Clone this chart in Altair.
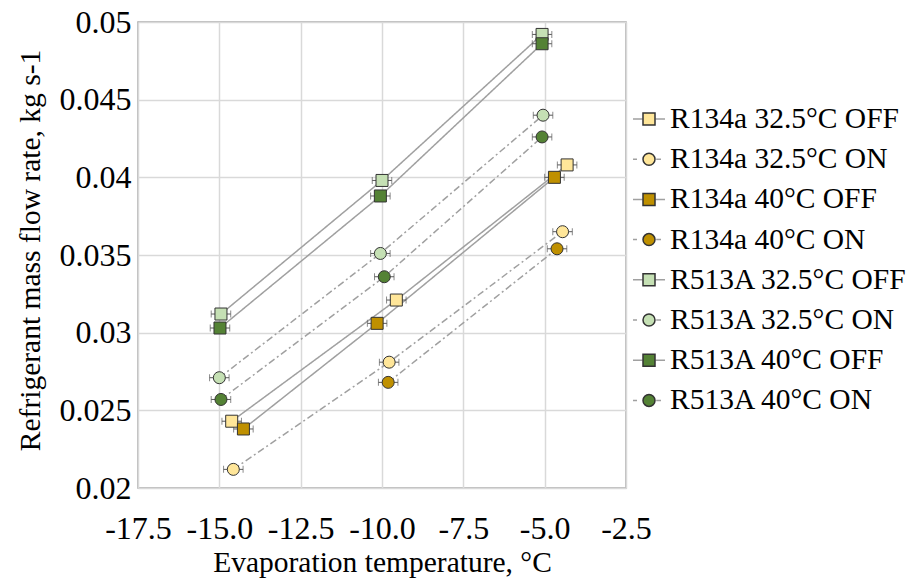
import altair as alt
import pandas as pd

# ---------------- data ----------------
SERIES = [
    "R134a 32.5°C OFF", "R134a 32.5°C ON", "R134a 40°C OFF", "R134a 40°C ON",
    "R513A 32.5°C OFF", "R513A 32.5°C ON", "R513A 40°C OFF", "R513A 40°C ON",
]
MODE = ["OFF", "ON", "OFF", "ON", "OFF", "ON", "OFF", "ON"]

X_R134A_325_OFF = [-14.62, -9.56, -4.31]
Y_R134A_325_OFF = [0.0243, 0.0321, 0.0408]
X_R134A_325_ON = [-14.57, -9.78, -4.45]
Y_R134A_325_ON = [0.0212, 0.0281, 0.0365]
X_R134A_40_OFF = [-14.26, -10.15, -4.70]
Y_R134A_40_OFF = [0.0238, 0.0306, 0.0400]
X_R134A_40_ON = [-9.81, -4.62]
Y_R134A_40_ON = [0.0268, 0.0354]
X_R513A_325_OFF = [-14.95, -10.00, -5.08]
Y_R513A_325_OFF = [0.0312, 0.0398, 0.0492]
X_R513A_325_ON = [-15.00, -10.05, -5.05]
Y_R513A_325_ON = [0.0271, 0.0351, 0.0440]
X_R513A_40_OFF = [-14.98, -10.05, -5.08]
Y_R513A_40_OFF = [0.0303, 0.0388, 0.0486]
X_R513A_40_ON = [-14.95, -9.93, -5.08]
Y_R513A_40_ON = [0.0257, 0.0336, 0.0426]

X_LISTS = [X_R134A_325_OFF, X_R134A_325_ON, X_R134A_40_OFF, X_R134A_40_ON,
           X_R513A_325_OFF, X_R513A_325_ON, X_R513A_40_OFF, X_R513A_40_ON]
Y_LISTS = [Y_R134A_325_OFF, Y_R134A_325_ON, Y_R134A_40_OFF, Y_R134A_40_ON,
           Y_R513A_325_OFF, Y_R513A_325_ON, Y_R513A_40_OFF, Y_R513A_40_ON]

X_ERROR = 0.3  # half width of the horizontal error bars, °C

X_TICKS = [-17.5, -15.0, -12.5, -10.0, -7.5, -5.0, -2.5]
Y_TICKS = [0.02, 0.025, 0.03, 0.035, 0.04, 0.045, 0.05]

FILLS = ["#FFE699", "#FFE699", "#BF9000", "#BF9000",
         "#C5E0B4", "#C5E0B4", "#548235", "#548235"]
SHAPES = ["square", "circle", "square", "circle",
          "square", "circle", "square", "circle"]

# legend symbols: connector line part and marker part (unit coordinates)
LINE_SOLID = "M-1,0H-0.4M0.4,0H1"
LINE_DASHDOT = "M-1,0H-0.75M0.45,0H0.75"
SQUARE_PATH = "M-0.375,-0.375H0.375V0.375H-0.375Z"
CIRCLE_PATH = "M0.375,0A0.375,0.375,0,1,1,-0.375,0A0.375,0.375,0,1,1,0.375,0Z"
LEGEND_LINES = [LINE_SOLID if m == "OFF" else LINE_DASHDOT for m in MODE]
LEGEND_MARKERS = [SQUARE_PATH if s == "square" else CIRCLE_PATH for s in SHAPES]

rows = []
for name, mode, xs, ys in zip(SERIES, MODE, X_LISTS, Y_LISTS):
    for xv, yv in zip(xs, ys):
        rows.append({"series": name, "mode": mode, "x": xv, "y": yv})
df = pd.DataFrame(rows)

# ---------------- styling ----------------
FONT = "Liberation Serif"
TXT = "#000000"
FS_TICK = 32
FS_TITLE = 29.5
FS_LEG = 29.5

x_scale = alt.Scale(domain=[-17.5, -2.5], nice=False, zero=False)
y_scale = alt.Scale(domain=[0.02, 0.05], nice=False, zero=False)

X_TITLE = "Evaporation temperature, °C"
Y_TITLE = "Refrigerant mass flow rate, kg s-1"

x_axis = alt.Axis(
    values=X_TICKS,
    labelExpr="replace(format(datum.value, '.1f'), '\u2212', '-')",
    labelFont=FONT, labelFontSize=FS_TICK, labelColor=TXT, labelPadding=25,
    labelFlush=False, labelOverlap=False,
    ticks=False, tickSize=0, domain=False,
    grid=True, gridColor="#d9d9d9", gridWidth=1.5,
    titleFont=FONT, titleFontSize=FS_TITLE, titleFontWeight="normal", titleColor=TXT,
    titleY=74, titleBaseline="middle",
)
y_axis = alt.Axis(
    values=Y_TICKS,
    labelExpr="format(datum.value, '.3~f')",
    labelFont=FONT, labelFontSize=FS_TICK, labelColor=TXT, labelPadding=7,
    labelFlush=False, labelOverlap=False,
    ticks=False, tickSize=0, domain=False,
    grid=True, gridColor="#d9d9d9", gridWidth=1.5,
    titleFont=FONT, titleFontSize=FS_TITLE, titleFontWeight="normal", titleColor=TXT,
    titleX=-108, titleY=228, titleAngle=-90, titleBaseline="middle", titleAlign="center",
)

enc_x = alt.X("x:Q", scale=x_scale, axis=x_axis, title=X_TITLE)
enc_y = alt.Y("y:Q", scale=y_scale, axis=y_axis, title=Y_TITLE)

base = alt.Chart(df)

lines = base.mark_line(color="#a0a0a0", strokeWidth=1.5).encode(
    x=enc_x, y=enc_y,
    detail="series:N",
    order="x:Q",
    strokeDash=alt.StrokeDash(
        "mode:N",
        scale=alt.Scale(domain=["OFF", "ON"], range=[[1, 0], [7, 3, 2, 3]]),
        legend=None,
    ),
)

err = base.transform_calculate(
    xlo=f"datum.x - {X_ERROR}", xhi=f"datum.x + {X_ERROR}"
).mark_rule(color="#595959", strokeWidth=1).encode(
    x=alt.X("xlo:Q", scale=x_scale, axis=x_axis, title=X_TITLE),
    x2="xhi:Q",
    y=enc_y,
)

caps = base.transform_calculate(
    xlo=f"datum.x - {X_ERROR}", xhi=f"datum.x + {X_ERROR}"
).transform_fold(["xlo", "xhi"], as_=["end", "xe"]).mark_tick(
    orient="vertical", color="#595959", size=7, thickness=1
).encode(
    x=alt.X("xe:Q", scale=x_scale, axis=x_axis, title=X_TITLE),
    y=enc_y,
)

points = base.mark_point(
    filled=True, size=144, stroke="#333333", strokeWidth=1, opacity=1
).encode(
    x=enc_x, y=enc_y,
    fill=alt.Fill("series:N", scale=alt.Scale(domain=SERIES, range=FILLS), legend=None),
    shape=alt.Shape("series:N", scale=alt.Scale(domain=SERIES, range=SHAPES), legend=None),
)

LEG_X = 494
LEG_Y = 80


def legend_def(label_opacity):
    return alt.Legend(
        title=None, orient="none", legendX=LEG_X, legendY=LEG_Y,
        labelFont=FONT, labelFontSize=FS_LEG, labelColor=TXT, labelOpacity=label_opacity,
        labelLimit=400, labelOffset=4, labelBaseline="middle",
        symbolSize=1024, rowPadding=8.2, padding=0, offset=0,
    )


leg_lines = base.transform_filter("false").mark_point(
    filled=False, stroke="#a0a0a0", strokeWidth=1.5, size=1024, opacity=1
).encode(
    x=enc_x, y=enc_y,
    shape=alt.Shape(
        "series:N",
        scale=alt.Scale(domain=SERIES, range=LEGEND_LINES),
        legend=legend_def(1),
    ),
)

leg_markers = base.transform_filter("false").mark_point(
    filled=True, stroke="#333333", strokeWidth=1, size=1024, opacity=1
).encode(
    x=enc_x, y=enc_y,
    color=alt.Color(
        "series:N",
        scale=alt.Scale(domain=SERIES, range=FILLS),
        legend=legend_def(0),
    ),
    shape=alt.Shape(
        "series:N",
        scale=alt.Scale(domain=SERIES, range=LEGEND_MARKERS),
        legend=legend_def(0),
    ),
)

chart = alt.layer(lines, err, caps, points, leg_lines, leg_markers).resolve_scale(
    shape="independent", color="independent"
).resolve_legend(
    shape="independent", color="independent"
).properties(
    width=488, height=466,
    autosize=alt.AutoSizeParams(type="none"),
    padding={"left": 138, "top": 22, "right": 283, "bottom": 93},
    background="white",
).configure(
    font=FONT
).configure_axis(
    labelFont=FONT, titleFont=FONT
).configure_legend(
    labelFont=FONT
).configure_view(stroke="#a6a6a6", strokeWidth=1.5)

chart.save("out.html", embed_options={"renderer": "svg", "actions": False})
